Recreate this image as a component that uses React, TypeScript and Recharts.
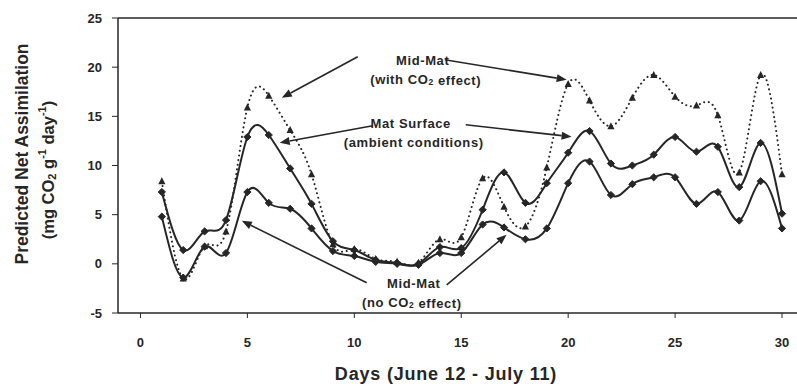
import React from 'react';
import {
  LineChart,
  Line,
  XAxis,
  YAxis,
  ReferenceLine,
  ReferenceDot,
} from 'recharts';

// Days 1..30 (June 12 - July 11)
const days = Array.from({ length: 30 }, (_, i) => i + 1);

const matSurface = [
  7.3, 1.4, 3.3, 4.45, 12.9, 13.1, 9.7, 6.1, 2.3, 1.4,
  0.4, 0.1, 0.0, 1.7, 1.6, 5.5, 9.3, 6.2, 8.2, 11.3,
  13.5, 10.2, 10.0, 11.1, 12.9, 11.4, 11.9, 7.8, 12.3, 5.1,
];

const midMatNoCO2 = [
  4.8, -1.4, 1.75, 1.1, 7.3, 6.2, 5.6, 3.6, 1.3, 0.8,
  0.2, 0.0, -0.1, 1.1, 1.1, 4.0, 3.7, 2.5, 3.6, 8.2,
  10.4, 7.0, 8.1, 8.8, 8.8, 6.1, 7.3, 4.4, 8.4, 3.6,
];

const midMatCO2 = [
  8.4, -1.5, 1.8, 3.3, 15.9, 17.1, 13.6, 9.1, 2.0, 1.5,
  0.5, 0.2, 0.1, 2.5, 2.7, 8.7, 5.8, 3.8, 9.8, 18.3,
  16.6, 14.0, 16.9, 19.2, 17.0, 16.1, 15.1, 9.3, 19.2, 9.1,
];

const xTicks = [0, 5, 10, 15, 20, 25, 30];
const yTicks = [-5, 0, 5, 10, 15, 20, 25];

const data = days.map((day, i) => ({
  day,
  matSurface: matSurface[i],
  midMatNoCO2: midMatNoCO2[i],
  midMatCO2: midMatCO2[i],
}));

const INK = '#262626';
const FONT = "'Liberation Sans', Arial, Helvetica, sans-serif";

// arrows: [from, to] in data units
const arrows: [number, number, number, number][] = [
  [10.16, 21.06, 6.61, 16.89],
  [14.23, 20.75, 19.93, 18.72],
  [10.86, 14.04, 6.51, 12.31],
  [15.21, 14.14, 20.16, 12.92],
  [10.58, -1.93, 4.74, 4.37],
  [14.32, -2.14, 17.12, 2.95],
];

const Diamond = (props: any) => {
  const { cx, cy, index } = props;
  if (cx == null || cy == null) return <g key={`d-${index}`} />;
  const s = 3.6;
  return (
    <polygon
      key={`d-${index}-${cx}`}
      points={`${cx},${cy - s} ${cx + s},${cy} ${cx},${cy + s} ${cx - s},${cy}`}
      fill={INK}
      stroke={INK}
      strokeWidth={1}
    />
  );
};

const Triangle = (props: any) => {
  const { cx, cy, index } = props;
  if (cx == null || cy == null) return <g key={`t-${index}`} />;
  return (
    <polygon
      key={`t-${index}-${cx}`}
      points={`${cx},${cy - 4} ${cx + 3.6},${cy + 3} ${cx - 3.6},${cy + 3}`}
      fill={INK}
    />
  );
};

const Arrow = (props: any) => {
  const { x1, y1, x2, y2 } = props;
  const ang = Math.atan2(y2 - y1, x2 - x1);
  const len = 10;
  const w = 4;
  const bx = x2 - len * Math.cos(ang);
  const by = y2 - len * Math.sin(ang);
  const px = -Math.sin(ang) * w;
  const py = Math.cos(ang) * w;
  return (
    <g>
      <line x1={x1} y1={y1} x2={bx} y2={by} stroke={INK} strokeWidth={1.6} />
      <polygon points={`${x2},${y2} ${bx + px},${by + py} ${bx - px},${by - py}`} fill={INK} />
    </g>
  );
};

const Sub = ({ children }: { children: React.ReactNode }) => (
  <tspan fontSize="0.65em" dy="0.3em">{children}</tspan>
);

const labelText = (content: React.ReactNode) => (p: any) => (
  <text
    x={p.cx}
    y={p.cy}
    textAnchor="middle"
    dominantBaseline="central"
    fontFamily={FONT}
    fontWeight="bold"
    fontSize={13}
    letterSpacing={0.6}
    fill={INK}
  >
    {content}
  </text>
);

const annotations: { x: number; y: number; content: React.ReactNode }[] = [
  { x: 13.2, y: 20.65, content: 'Mid-Mat' },
  { x: 13.34, y: 18.7, content: <>(with CO<Sub>2</Sub><tspan dy="-0.2em"> effect)</tspan></> },
  { x: 12.64, y: 14.24, content: 'Mat Surface' },
  { x: 12.78, y: 12.31, content: '(ambient conditions)' },
  { x: 12.78, y: -2.03, content: 'Mid-Mat' },
  { x: 12.69, y: -3.97, content: <>(no CO<Sub>2</Sub><tspan dy="-0.2em"> effect)</tspan></> },
];

const App: React.FC = () => {
  return (
    <div style={{ position: 'absolute', left: 0, top: 0, width: 797, height: 388, background: '#fff' }}>
      <LineChart
        width={797}
        height={388}
        data={data}
        margin={{ top: 18, right: 0, bottom: 45, left: 0 }}
      >
        <XAxis
          dataKey="day"
          type="number"
          domain={[-1.05, 30.7]}
          ticks={xTicks}
          allowDataOverflow
          height={30}
          tickSize={5}
          tickMargin={20}
          axisLine={{ stroke: INK, strokeWidth: 1.5 }}
          tickLine={{ stroke: INK }}
          tick={{ fill: INK, fontSize: 13, fontWeight: 'bold', fontFamily: FONT }}
        />
        <YAxis
          type="number"
          domain={[-5, 25]}
          ticks={yTicks}
          allowDataOverflow
          width={118}
          tickSize={6}
          tickMargin={10}
          axisLine={{ stroke: INK, strokeWidth: 1.5 }}
          tickLine={{ stroke: INK }}
          tick={{ fill: INK, fontSize: 13, fontWeight: 'bold', fontFamily: FONT }}
        />
        <ReferenceLine y={25} stroke={INK} strokeWidth={1.5} />
        <Line
          dataKey="midMatCO2"
          type="natural"
          stroke={INK}
          strokeWidth={2}
          strokeDasharray="0.1 4.6"
          strokeLinecap="round"
          dot={Triangle}
          isAnimationActive={false}
        />
        <Line
          dataKey="matSurface"
          type="natural"
          stroke={INK}
          strokeWidth={2}
          dot={Diamond}
          isAnimationActive={false}
        />
        <Line
          dataKey="midMatNoCO2"
          type="natural"
          stroke={INK}
          strokeWidth={2}
          dot={Diamond}
          isAnimationActive={false}
        />
        {arrows.map(([ax, ay, bx, by], i) => (
          <ReferenceLine
            key={`arrow-${i}`}
            segment={[{ x: ax, y: ay }, { x: bx, y: by }]}
            shape={Arrow}
            ifOverflow="visible"
          />
        ))}
        {annotations.map((a, i) => (
          <ReferenceDot
            key={`note-${i}`}
            x={a.x}
            y={a.y}
            r={0}
            shape={labelText(a.content)}
            ifOverflow="visible"
          />
        ))}
      </LineChart>
      <svg
        width={797}
        height={388}
        style={{ position: 'absolute', left: 0, top: 0, pointerEvents: 'none' }}
      >
        <g fontFamily={FONT} fontWeight="bold" fill={INK}>
          <text x={22} y={154} fontSize={17.5} textAnchor="middle" dominantBaseline="central" transform="rotate(-90 22 154)">
            Predicted Net Assimilation
          </text>
          <text x={48} y={170} fontSize={16.5} textAnchor="middle" dominantBaseline="central" transform="rotate(-90 48 170)">
            (mg CO<tspan fontSize={11} dy={4}>2</tspan>
            <tspan dy={-4}> g</tspan>
            <tspan fontSize={11} dy={-6}>-1</tspan>
            <tspan dy={6}> day</tspan>
            <tspan fontSize={11} dy={-6}>-1</tspan>
            <tspan dy={6}>)</tspan>
          </text>
          <text
            x={446}
            y={374}
            fontSize={18}
            letterSpacing={0.8}
            textAnchor="middle"
            dominantBaseline="central"
          >
            Days (June 12 - July 11)
          </text>
        </g>
      </svg>
    </div>
  );
};

export default App;
